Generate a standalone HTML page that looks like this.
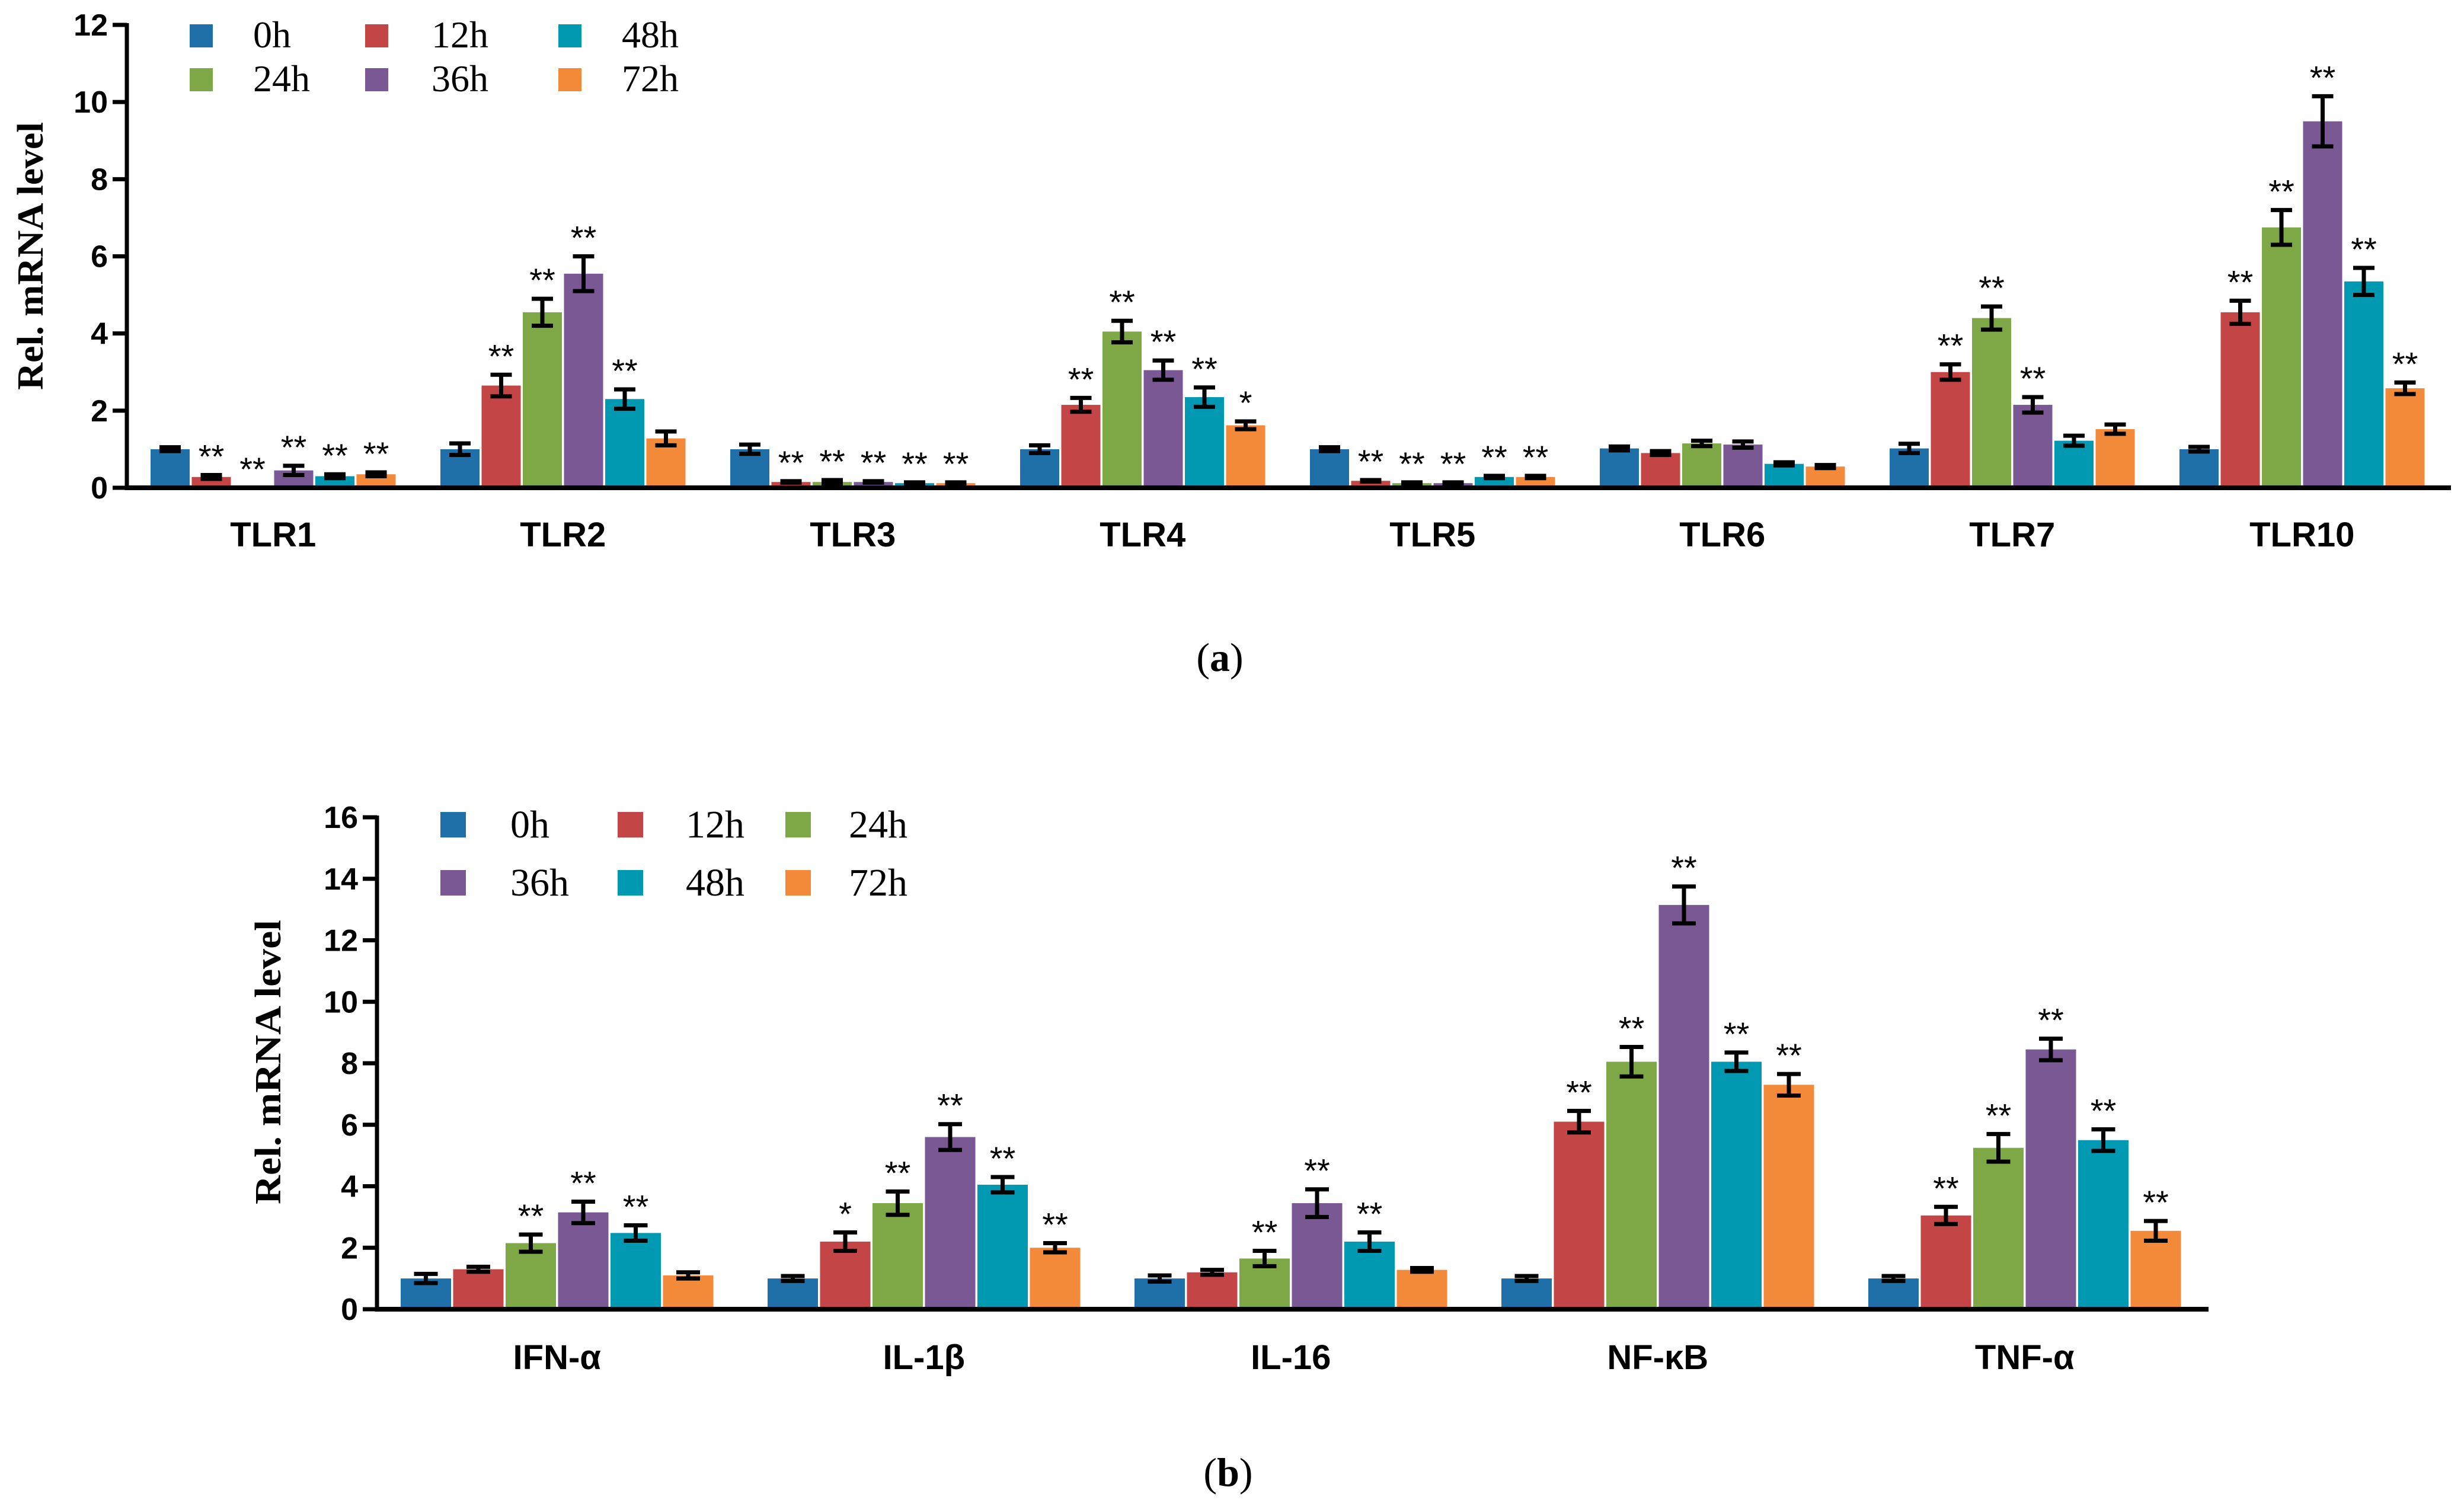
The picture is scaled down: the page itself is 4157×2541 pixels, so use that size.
<!DOCTYPE html>
<html><head><meta charset="utf-8"><style>
html,body{margin:0;padding:0;background:#fff;}
svg{display:block;}
</style></head><body>
<svg id="fig" xmlns="http://www.w3.org/2000/svg" width="4157" height="2541" viewBox="0 0 4157 2541">
<rect x="0" y="0" width="4157" height="2541" fill="#fff"/>
<g id="chartA"></g>
<g id="chartB"></g>
<text x="2058" y="1132" text-anchor="middle" font-family="Liberation Serif, serif" font-size="68">(<tspan font-weight="bold">a</tspan>)</text>
<text x="2072" y="2507" text-anchor="middle" font-family="Liberation Serif, serif" font-size="68">(<tspan font-weight="bold">b</tspan>)</text>
</svg>
<script>
const seriesNames = ["0h","12h","24h","36h","48h","72h"];
const colors = ["#1f6fa8","#c44545","#7ea845","#7a5893","#0199b2","#f38a3a"];

const catsA = ["TLR1","TLR2","TLR3","TLR4","TLR5","TLR6","TLR7","TLR10"];
const valsA = [
 [1.0,0.28,0,0.45,0.3,0.35],
 [1.0,2.65,4.55,5.55,2.3,1.28],
 [1.0,0.15,0.15,0.15,0.12,0.12],
 [1.0,2.15,4.05,3.05,2.35,1.62],
 [1.0,0.18,0.12,0.12,0.28,0.28],
 [1.02,0.9,1.15,1.12,0.62,0.55],
 [1.02,3.0,4.4,2.15,1.22,1.52],
 [1.0,4.55,6.75,9.5,5.35,2.58]
];
const errA = [
 [0.05,0.05,0,0.12,0.05,0.05],
 [0.15,0.28,0.35,0.45,0.25,0.18],
 [0.12,0.02,0.05,0.02,0.02,0.02],
 [0.1,0.18,0.28,0.25,0.25,0.1],
 [0.05,0.02,0.02,0.02,0.03,0.03],
 [0.05,0.05,0.07,0.08,0.04,0.04],
 [0.12,0.2,0.3,0.2,0.13,0.12],
 [0.06,0.3,0.45,0.65,0.35,0.15]
];
const sigA = [
 ["","**","**","**","**","**"],
 ["","**","**","**","**",""],
 ["","**","**","**","**","**"],
 ["","**","**","**","**","*"],
 ["","**","**","**","**","**"],
 ["","","","","",""],
 ["","**","**","**","",""],
 ["","**","**","**","**","**"]
];
const ticksA = [0,2,4,6,8,10,12];

const catsB = ["IFN-α","IL-1β","IL-16","NF-κB","TNF-α"];
const valsB = [
 [1.0,1.3,2.15,3.15,2.48,1.1],
 [1.0,2.2,3.45,5.6,4.05,2.0],
 [1.0,1.2,1.65,3.45,2.2,1.28],
 [1.0,6.1,8.05,13.15,8.05,7.3],
 [1.0,3.05,5.25,8.45,5.5,2.55]
];
const errB = [
 [0.15,0.08,0.28,0.35,0.25,0.1],
 [0.08,0.3,0.38,0.42,0.25,0.15],
 [0.1,0.08,0.25,0.45,0.3,0.06],
 [0.08,0.35,0.48,0.6,0.3,0.35],
 [0.08,0.28,0.45,0.35,0.35,0.32]
];
const sigB = [
 ["","","**","**","**",""],
 ["","*","**","**","**","**"],
 ["","","**","**","**",""],
 ["","**","**","**","**","**"],
 ["","**","**","**","**","**"]
];
const ticksB = [0,2,4,6,8,10,12,14,16];

const NS = "http://www.w3.org/2000/svg";
function mk(parent, tag, attrs){
  const e = document.createElementNS(NS, tag);
  for (const k in attrs) e.setAttribute(k, attrs[k]);
  parent.appendChild(e);
  return e;
}

function drawChart(g, cfg){
  const yScale = v => cfg.y0 - (v / cfg.ymax) * (cfg.y0 - cfg.yTop);
  cfg.cats.forEach((cat, ci) => {
    cfg.vals[ci].forEach((v, si) => {
      const x = cfg.x0 + ci * cfg.groupPitch + si * cfg.barPitch;
      const r = mk(g, "rect", {x: x, y: yScale(v), width: cfg.barW, height: cfg.y0 - yScale(v), fill: colors[si]});
      
      
      const cx = x + cfg.barW / 2;
      const e = cfg.errs[ci][si];
      if (v > 0) {
        const eb = mk(g, "path", {d: `M${cx},${yScale(v+e)}V${yScale(Math.max(0,v-e))}M${cx-cfg.cap},${yScale(v+e)}H${cx+cfg.cap}M${cx-cfg.cap},${yScale(Math.max(0,v-e))}H${cx+cfg.cap}`, stroke: "#000", "stroke-width": cfg.ew, fill: "none"});
        
        
      }
      const s = cfg.sig[ci][si];
      if (s) {
        const t = mk(g, "text", {x: cx, y: yScale(v+e) - 12, "text-anchor": "middle", "font-family": "Liberation Sans, sans-serif", "font-size": cfg.starSize});
        t.textContent = s;
        
        
      }
    });
    const lx = cfg.x0 + ci * cfg.groupPitch + (5 * cfg.barPitch + cfg.barW) / 2;
    const lt = mk(g, "text", {x: lx, y: cfg.catY, "text-anchor": "middle", "font-family": "Liberation Sans, sans-serif", "font-weight": "bold", "font-size": cfg.catSize});
    lt.textContent = cat;
    
    
  });
  const ya = mk(g, "line", {x1: cfg.axX, y1: cfg.yTop - 3, x2: cfg.axX, y2: cfg.y0 + 4, stroke: "#000", "stroke-width": 7});
  
  
  const xa = mk(g, "line", {x1: cfg.axX - 3, y1: cfg.y0, x2: cfg.axEnd, y2: cfg.y0, stroke: "#000", "stroke-width": 8});
  
  
  cfg.ticks.forEach(tv => {
    const ty = yScale(tv);
    const tk = mk(g, "line", {x1: cfg.axX - 24, y1: ty, x2: cfg.axX, y2: ty, stroke: "#000", "stroke-width": 7});
    
    
    const tl = mk(g, "text", {x: cfg.axX - 32, y: ty + 18, "text-anchor": "end", "font-family": "Liberation Sans, sans-serif", "font-weight": "bold", "font-size": 52});
    tl.textContent = tv;
    
    
  });
  const yt = mk(g, "text", {x: 0, y: 0, transform: `translate(${cfg.titleX},${cfg.titleY}) rotate(-90)`, "text-anchor": "middle", "font-family": "Liberation Serif, serif", "font-weight": "bold", "font-size": cfg.titleSize, textLength: cfg.titleLen, lengthAdjust: "spacingAndGlyphs"});
  yt.textContent = "Rel. mRNA level";
  
  
  cfg.legendOrder.forEach((si, k) => {
    const col = k % 3, row = Math.floor(k / 3);
    const sx = cfg.legSwX[col], sy = cfg.legRowY[row];
    const sw = mk(g, "rect", {x: sx, y: sy, width: cfg.legSw, height: cfg.legSw, fill: colors[si]});
    
    
    const lt = mk(g, "text", {x: cfg.legTxX[col], y: sy + cfg.legSw, "font-family": "Liberation Serif, serif", "font-size": cfg.legFont});
    lt.textContent = seriesNames[si];
    
    
  });
}

drawChart(document.getElementById("chartA"), {
  cats: catsA, vals: valsA, errs: errA, sig: sigA, ticks: ticksA, ymax: 12,
  y0: 823, yTop: 42, x0: 254, groupPitch: 489, barPitch: 69.5, barW: 66,
  axX: 214, axEnd: 4135, cap: 18, ew: 7, starSize: 56, catY: 922, catSize: 58,
  titleX: 72, titleY: 432, titleSize: 62, titleLen: 452,
  legendOrder: [0,1,4,2,3,5], legSwX: [320,616,942], legTxX: [427,728,1049], legRowY: [41,115], legSw: 39, legFont: 64
});
drawChart(document.getElementById("chartB"), {
  cats: catsB, vals: valsB, errs: errB, sig: sigB, ticks: ticksB, ymax: 16,
  y0: 2209, yTop: 1379, x0: 676, groupPitch: 619, barPitch: 88.5, barW: 85,
  axX: 636, axEnd: 3726, cap: 20, ew: 7, starSize: 56, catY: 2310, catSize: 58,
  titleX: 473, titleY: 1792, titleSize: 62, titleLen: 480,
  legendOrder: [0,1,2,3,4,5], legSwX: [743,1042,1325], legTxX: [861,1157,1432], legRowY: [1370,1468], legSw: 43, legFont: 66
});
</script>
</body></html>
